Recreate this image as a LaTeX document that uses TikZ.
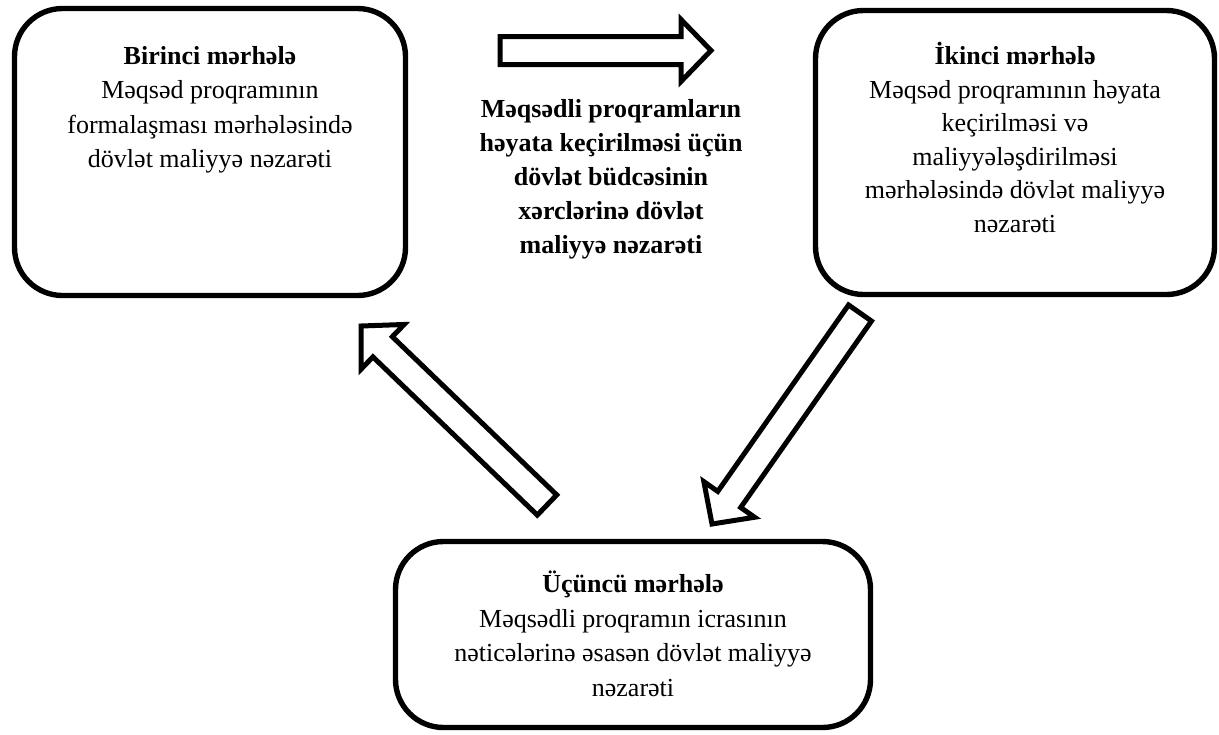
\documentclass[tikz,border=0pt]{standalone}
\usepackage{fontspec}
\setmainfont{Liberation Serif}
\usetikzlibrary{positioning,calc}

\tikzset{
  stage/.style={draw, line width=2.7pt, rounded corners=24pt, inner sep=0pt},
  stagetext/.style={align=center, inner sep=0pt, font=\fontsize{13}{17.2}\selectfont},
  blockarrow/.style={draw, line width=2.5pt, fill=white, line join=miter, miter limit=10},
}

% hollow block arrow from coordinate #1 to coordinate #2
\newcommand{\blockarrow}[2]{%
  \coordinate (#1#2) at ($(#2)!15pt!(#1)$);
  \draw[blockarrow] ($(#1)!7pt!90:(#2)$) -- ($(#1#2)!7pt!90:(#2)$)
    -- ($(#1#2)!15.5pt!90:(#2)$) -- (#2) -- ($(#1#2)!15.5pt!-90:(#2)$)
    -- ($(#1#2)!7pt!-90:(#2)$) -- ($(#1)!7pt!-90:(#2)$) -- cycle;
}

\begin{document}
\begin{tikzpicture}[x=0.5pt, y=-0.5pt]
  \useasboundingbox (0,0) rectangle (1219,734);

  % ----------------------------------------------------
  % Mərhələlər
  % ----------------------------------------------------
  \node[stage, minimum width=195.5pt, minimum height=143.5pt] (first) at (210,152) {};
  \node[stage, minimum width=199.5pt, minimum height=142pt] (second) at (1015,152.5) {};
  \node[stage, minimum width=237.5pt, minimum height=93pt] (third) at (633,634.5) {};

  \node[stagetext, below=20pt of first.north] (firsttext)
    {\textbf{Birinci mərhələ}\\ Məqsəd proqramının\\ formalaşması mərhələsində\\ dövlət maliyyə nəzarəti};
  \node[stagetext, font=\fontsize{13}{16.8}\selectfont, below=17pt of second.north] (secondtext)
    {\textbf{İkinci mərhələ}\\ Məqsəd proqramının həyata\\ keçirilməsi və\\ maliyyələşdirilməsi\\ mərhələsində dövlət maliyyə\\ nəzarəti};
  \node[stagetext, below=16pt of third.north] (thirdtext)
    {\textbf{Üçüncü mərhələ}\\ Məqsədli proqramın icrasının\\ nəticələrinə əsasən dövlət maliyyə\\ nəzarəti};

  % Mərkəzi mətn
  \node[stagetext, font=\fontsize{13}{17}\selectfont\bfseries, anchor=north] (goal) at (611,99)
    {Məqsədli proqramların\\ həyata keçirilməsi üçün\\ dövlət büdcəsinin\\ xərclərinə dövlət\\ maliyyə nəzarəti};

  % ----------------------------------------------------
  % Oxlar
  % ----------------------------------------------------
  \coordinate (s12) at (500,50.5);
  \coordinate (e12) at (711,50.5);
  \coordinate (s23) at (860,313);
  \coordinate (e23) at (712,524);
  \coordinate (s31) at (547,505);
  \coordinate (e31) at (361,326);

  \blockarrow{s12}{e12}
  \blockarrow{s23}{e23}
  \blockarrow{s31}{e31}
\end{tikzpicture}
\end{document}
